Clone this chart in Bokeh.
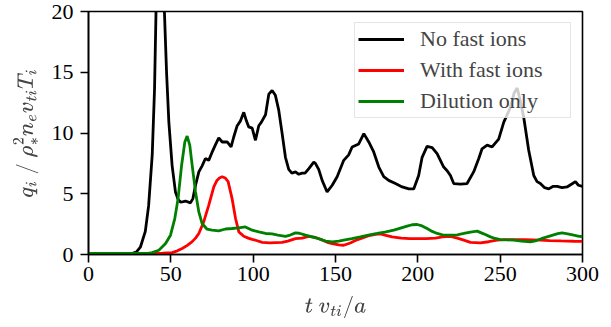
from bokeh.plotting import figure
from bokeh.models import Range1d, FixedTicker
from bokeh.embed import file_html
from bokeh.resources import INLINE

# ---- data ----
t_black = [0, 20, 27, 29, 31.5, 34.5, 36.5, 38.7, 40.1, 41, 42, 43.3, 44.8, 46.1, 47.4, 48.8,
           50.8, 52.8, 54.5, 56, 58.9, 61.9, 63.4, 65, 67, 69, 71, 73, 75, 77, 79.1, 81.2,
           84.2, 86.6, 88.2, 90.3, 92.3, 94.3, 95.9, 97.3, 99.4, 101.4, 103.4, 105, 107.5,
           109.5, 111.5, 113.5, 115.5, 117.6, 119.6, 121.6, 123.5, 125.7, 127.7, 129.7, 131.5,
           133.8, 136.8, 137.8, 139.8, 141.9, 144.9, 148, 151, 155, 158, 160.1, 164.1, 167.2,
           170.2, 173.2, 176.3, 179.3, 182.3, 186.4, 190.5, 194.5, 197.5, 200.5, 202.6, 205.6,
           208.7, 211.7, 213.7, 215.7, 217.8, 219.8, 221.8, 225.9, 229.9, 233.9, 237, 239,
           242.1, 245.1, 249.1, 252.2, 256.2, 258.5, 260.3, 262, 264.3, 267.3, 270.4, 272.4,
           274.4, 277, 279.5, 282, 284.6, 287.6, 290.6, 293.5, 295.7, 297.5, 300]
q_black = [0.1, 0.1, 0.12, 0.2, 0.6, 1.9, 4.0, 8.2, 13.6, 20, 24, 26, 24, 20, 15, 10.9,
           7.3, 5.15, 4.5, 4.3, 4.4, 4.25, 4.6, 5.7, 6.8, 7.3, 7.9, 7.75, 8.4, 9.0, 9.6, 9.26,
           9.26, 8.85, 9.67, 10.6, 11.0, 11.7, 11.0, 10.5, 10.4, 9.4, 10.6, 10.9, 11.5,
           13.2, 13.5, 13.1, 11.9, 9.95, 8.0, 7.0, 6.7, 6.8, 6.6, 6.7, 6.7,
           7.07, 7.6, 7.5, 7.0, 6.1, 5.15, 5.7, 6.4, 7.75, 8.2, 8.85, 9.1, 9.95,
           9.26, 8.44, 7.2, 6.4, 6.1, 5.84, 5.56, 5.4, 5.4, 6.5, 8.0, 8.9,
           8.8, 8.3, 7.75, 7.2, 6.9, 6.5, 5.84, 5.8, 5.84, 6.8, 7.9, 8.7,
           9.0, 8.85, 9.5, 10.9, 12.1, 13.3, 13.7, 12.8, 11.3, 8.6, 6.5, 6.0,
           5.84, 5.5, 5.4, 5.6, 5.6, 5.5, 5.56, 5.8, 6.0, 5.7, 5.6]

t_red = [0, 40, 45, 50.8, 54, 56.9, 60, 62.8, 65, 67, 70, 73, 76.1, 78, 79.5, 81.2, 83, 84.8,
         87.2, 89.3, 91.3, 94.3, 97, 99.4, 102, 105.5, 110, 117.6, 121, 125.7, 129.7, 133.8,
         137.8, 141.9, 145, 148, 152, 155, 159, 162.1, 166, 170.2, 175.3, 177.3, 180, 184.4,
         190, 195, 199.6, 205, 210.7, 215, 219.8, 224, 227.9, 232, 238, 243, 248.1, 253,
         258.2, 265, 274.4, 280, 287, 294.7, 300]
q_red = [0.1, 0.1, 0.12, 0.16, 0.3, 0.5, 0.75, 1.04, 1.35, 1.73, 2.7, 4.05, 5.56, 6.1, 6.3, 6.4, 6.3, 6.0,
         4.6, 2.96, 1.86, 1.5, 1.35, 1.25, 1.15, 1.0, 0.95, 1.0, 1.1, 1.3, 1.35, 1.5,
         1.4, 1.2, 1.0, 0.9, 0.8, 0.76, 0.95, 1.15, 1.35, 1.55, 1.68, 1.7, 1.6, 1.45,
         1.35, 1.3, 1.3, 1.3, 1.35, 1.45, 1.5, 1.35, 1.18, 1.0, 0.95, 1.05, 1.18, 1.22,
         1.23, 1.22, 1.18, 1.15, 1.12, 1.09, 1.08]

t_green = [0, 36, 38.7, 42.7, 46.8, 49.8, 52.4, 54.4, 56.5, 58.5, 59.9, 61.5, 63, 65, 67, 69,
           72, 75, 79.1, 83.2, 87.2, 91, 95.3, 99.4, 103.4, 107.5, 111.5, 115, 119.6, 122.5,
           125.7, 128, 131.8, 135.8, 139.8, 144, 148, 152, 155, 160, 165.1, 170, 175.3, 180,
           185.4, 189, 193.5, 196.5, 199.6, 202.6, 205.6, 208.7, 211.7, 215, 219.8, 224,
           227.9, 232, 236, 240, 244.1, 247, 250.1, 254, 258.2, 263, 268.4, 272, 275, 278.5,
           282, 285, 287.6, 291, 294.7, 298, 300]
q_green = [0.1, 0.1, 0.15, 0.35, 0.9, 1.59, 2.96, 4.6, 7.3, 9.26, 9.75, 9.0, 7.3, 5.15, 3.5, 2.55,
           2.08, 2.0, 1.94, 2.1, 2.14, 2.2, 2.27, 2.0, 1.86, 1.73, 1.7, 1.6, 1.5, 1.6,
           1.78, 1.75, 1.6, 1.45, 1.3, 1.1, 1.04, 1.1, 1.18, 1.3, 1.45, 1.6, 1.73, 1.85,
           2.0, 2.15, 2.33, 2.45, 2.47, 2.35, 2.14, 1.9, 1.73, 1.62, 1.59, 1.62,
           1.73, 1.85, 1.92, 1.7, 1.45, 1.32, 1.23, 1.2, 1.18, 1.1, 1.04, 1.15, 1.3, 1.45,
           1.6, 1.72, 1.78, 1.7, 1.59, 1.5, 1.48]

labels = ["No fast ions", "With fast ions", "Dilution only"]
colors = ["black", "#ff0000", "#008000"]
x_ticks = [0, 50, 100, 150, 200, 250, 300]
y_ticks = [0, 5, 10, 15, 20]

FONT = "Liberation Serif"

p = figure(width=611, height=327, output_backend="svg", toolbar_location=None,
           x_range=Range1d(0, 300), y_range=Range1d(0, 20),
           min_border_left=88, min_border_right=29, min_border_top=11, min_border_bottom=73)
p.xgrid.visible = False
p.ygrid.visible = False
p.background_fill_color = "white"
p.border_fill_color = "white"
p.outline_line_color = "black"
p.outline_line_width = 1.6

for tt, qq, lab, col in zip([t_black, t_red, t_green], [q_black, q_red, q_green], labels, colors):
    p.line(tt, qq, color=col, line_width=2.8, legend_label=lab)

for ax in (p.xaxis[0], p.yaxis[0]):
    ax.axis_line_width = 1.6
    ax.major_tick_line_width = 1.6
    ax.major_tick_out = 8
    ax.major_tick_in = 0
    ax.minor_tick_out = 0
    ax.minor_tick_in = 0
    ax.major_label_text_font = FONT
    ax.major_label_text_font_size = "22px"
    ax.major_label_text_color = "black"
    ax.axis_label_text_font_size = "18px"

p.xaxis.major_label_standoff = 4
p.yaxis.major_label_standoff = 7
p.xaxis.ticker = FixedTicker(ticks=x_ticks)
p.yaxis.ticker = FixedTicker(ticks=y_ticks)
p.xaxis.axis_label = r"$$t\ v_{ti}/a$$"
p.yaxis.axis_label = r"$$q_i\ /\ \rho_*^2 n_e v_{ti} T_i$$"
p.xaxis.axis_label_standoff = 12
p.yaxis.axis_label_standoff = 10

lg = p.legend[0]
lg.location = "top_right"
lg.margin = 11
lg.padding = 3
lg.spacing = 5
lg.label_height = 22
lg.glyph_height = 22
lg.glyph_width = 46
lg.label_standoff = 16
lg.label_width = 147
lg.label_text_font = FONT
lg.label_text_font_size = "22px"
lg.border_line_color = "#cccccc"
lg.border_line_width = 1
lg.background_fill_color = "white"
lg.background_fill_alpha = 0.8

open("out.html", "w").write(file_html(p, INLINE))
